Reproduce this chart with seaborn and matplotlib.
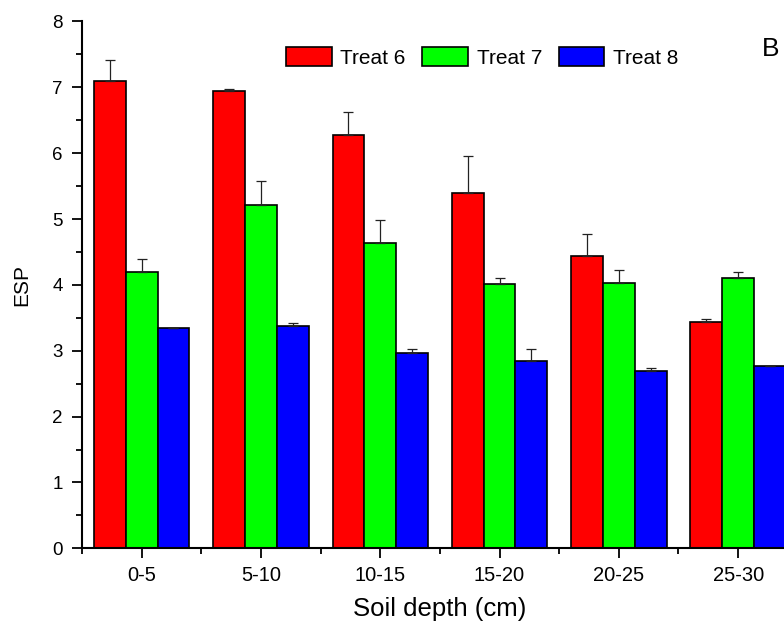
import pandas as pd
import seaborn as sns
import matplotlib.pyplot as plt
import numpy as np

depths = ["0-5", "5-10", "10-15", "15-20", "20-25", "25-30"]
treats = ["Treat 6", "Treat 7", "Treat 8"]
treat6 = [7.10, 6.94, 6.27, 5.40, 4.44, 3.43]
treat7 = [4.19, 5.21, 4.63, 4.02, 4.03, 4.10]
treat8 = [3.35, 3.38, 2.97, 2.84, 2.69, 2.77]
err6 = [0.32, 0.03, 0.35, 0.56, 0.33, 0.05]
err7 = [0.20, 0.37, 0.35, 0.09, 0.19, 0.09]
err8 = [0.00, 0.04, 0.05, 0.18, 0.05, 0.00]
colors = ["#ff0000", "#00ff00", "#0000ff"]


def main():
    sns.set_style("ticks")
    plt.rcParams["font.family"] = ["Liberation Sans", "DejaVu Sans"]
    plt.rcParams["text.color"] = "black"
    plt.rcParams["axes.labelcolor"] = "black"
    plt.rcParams["xtick.color"] = "black"
    plt.rcParams["ytick.color"] = "black"

    df = pd.DataFrame({
        "depth": depths * 3,
        "esp": treat6 + treat7 + treat8,
        "treat": [treats[0]] * 6 + [treats[1]] * 6 + [treats[2]] * 6,
    })
    errs = [err6, err7, err8]

    fig = plt.figure(figsize=(7.84, 6.31), dpi=100)
    ax = fig.add_axes([0.1046, 0.131, 0.913, 0.835])
    sns.barplot(data=df, x="depth", y="esp", hue="treat", order=depths,
                hue_order=treats, palette=colors, saturation=1,
                edgecolor="black", linewidth=1.2, errorbar=None,
                width=0.8, gap=0, ax=ax)

    # upward-only error bars on top of each bar
    for cont, e in zip(ax.containers, errs):
        xs = [b.get_x() + b.get_width() / 2 for b in cont]
        hs = [b.get_height() for b in cont]
        ax.errorbar(xs, hs, yerr=[np.zeros(len(e)), e], fmt="none",
                    ecolor="#222222", elinewidth=0.9, capsize=3.3,
                    capthick=0.9, zorder=3)

    ax.set_ylim(0, 8)
    ax.set_xlim(-0.5, 5.5)
    ax.set_yticks(range(0, 9))
    ax.set_yticks(np.arange(0.5, 8, 1), minor=True)
    ax.set_xticks(np.arange(-0.5, 6, 1), minor=True)
    ax.tick_params(axis="both", which="major", direction="out", length=7,
                   width=1.3, color="black")
    ax.tick_params(axis="both", which="minor", direction="out", length=4,
                   width=1.3, color="black")
    ax.tick_params(axis="y", labelsize=13.5, pad=7)
    ax.tick_params(axis="x", labelsize=14.5, pad=6)
    for s in ["left", "bottom"]:
        ax.spines[s].set_linewidth(1.5)
        ax.spines[s].set_color("black")
    sns.despine(ax=ax)

    ax.set_xlabel("Soil depth (cm)", fontsize=18.5, labelpad=8)
    ax.set_ylabel("ESP", fontsize=15, labelpad=15)

    handles, labels = ax.get_legend_handles_labels()
    ax.legend(handles, labels, loc="center", bbox_to_anchor=(0.559, 0.932),
              ncol=3, frameon=False, fontsize=15, handlelength=2.2,
              handleheight=1.0, handletextpad=0.4, columnspacing=0.8)

    ax.text(0.95, 0.947, "B", transform=ax.transAxes, fontsize=19,
            ha="left", va="center")

    fig.savefig("out.png", dpi=100)


if __name__ == '__main__':
    main()
